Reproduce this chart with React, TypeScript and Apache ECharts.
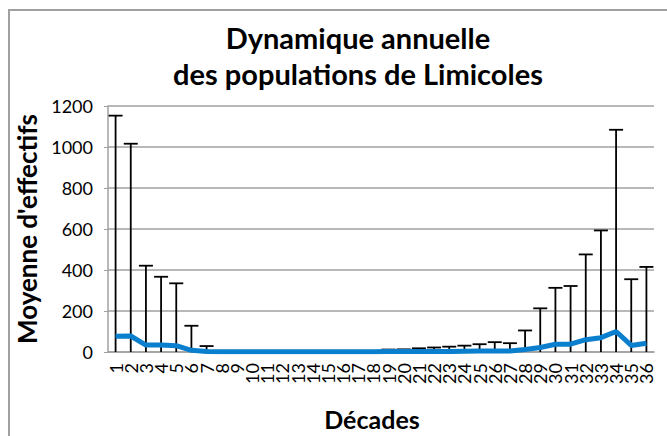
import React, { useEffect, useRef } from "react";
import * as echarts from "echarts";

const decades = Array.from({ length: 36 }, (_, i) => String(i + 1));
const means = [77, 78, 34, 34, 31, 8, 2, 1, 1, 1, 1, 1, 1, 1, 1, 1, 1, 1, 2, 2, 2, 3, 3, 4, 5, 5, 5, 12, 22, 38, 38, 60, 70, 100, 32, 43];
const upper = [1153, 1016, 421, 367, 335, 128, 29, 3, 2, 2, 2, 2, 2, 2, 2, 2, 2, 3, 12, 13, 18, 22, 26, 31, 38, 48, 43, 105, 213, 313, 322, 476, 593, 1084, 355, 415];
const yTicks = { min: 0, max: 1200, interval: 200 };
const titleLines = ["Dynamique annuelle", "des populations de Limicoles"];

const FONT = "Lato";

export default function App() {
  const ref = useRef<HTMLDivElement>(null);
  useEffect(() => {
    const chart = echarts.init(ref.current!, null, { renderer: "svg" });
    const errData = means.map((m, i) => [i, Math.max(0, m - (upper[i] - m)), upper[i]]);
    chart.setOption({
      animation: false,
      backgroundColor: "#fff",
      grid: { left: 108, right: 13, top: 106, bottom: 71, containLabel: false },
      xAxis: {
        type: "category",
        data: decades,
        boundaryGap: true,
        name: "Décades",
        nameLocation: "middle",
        nameGap: 54,
        nameTextStyle: { fontFamily: FONT, fontWeight: "bold", fontSize: 25, color: "#000", padding: [0, 18, 0, 0] },
        axisLine: { lineStyle: { color: "#a0a0a0", width: 1.5 } },
        axisTick: { show: false },
        axisLabel: { interval: 0, rotate: 90, fontFamily: FONT, fontSize: 18, color: "#000", margin: 11 },
      },
      yAxis: {
        type: "value",
        min: yTicks.min,
        max: yTicks.max,
        interval: yTicks.interval,
        name: "Moyenne d'effectifs",
        nameLocation: "middle",
        nameGap: 64,
        nameTextStyle: { fontFamily: FONT, fontWeight: "bold", fontSize: 26, color: "#000" },
        axisLine: { show: true, lineStyle: { color: "#a0a0a0", width: 1.5 } },
        axisTick: { show: true, length: 4, lineStyle: { color: "#a0a0a0" } },
        axisLabel: { fontFamily: FONT, fontSize: 18, color: "#000", margin: 15, formatter: (v: number) => String(v) },
        splitLine: { lineStyle: { color: "#a0a0a0", width: 1.5 } },
      },
      graphic: [
        {
          type: "rect",
          shape: { x: 9, y: 10, width: 700, height: 500 },
          style: { fill: "none", stroke: "#a0a0a0", lineWidth: 2 },
          silent: true,
          z: 100,
        },
        ...titleLines.map((t, i) => ({
          type: "text",
          x: 358,
          y: 37 + i * 36,
          style: {
            text: t,
            fontFamily: FONT,
            fontWeight: "bold",
            fontSize: 29,
            fill: "#000",
            textAlign: "center",
            textVerticalAlign: "middle",
          },
        })),
      ],
      series: [
        {
          type: "custom",
          data: errData,
          z: 2,
          renderItem: (params: any, api: any) => {
            const x = api.value(0);
            const lo = api.coord([x, api.value(1)]);
            const hi = api.coord([x, api.value(2)]);
            const hw = 7;
            return {
              type: "group",
              children: [
                { type: "line", shape: { x1: hi[0], y1: lo[1], x2: hi[0], y2: hi[1] }, style: { stroke: "#000", lineWidth: 1.8 } },
                { type: "line", shape: { x1: hi[0] - hw, y1: hi[1], x2: hi[0] + hw, y2: hi[1] }, style: { stroke: "#000", lineWidth: 1.8 } },
              ],
            };
          },
        },
        {
          type: "line",
          data: means,
          symbol: "none",
          z: 3,
          lineStyle: { color: "#0a7fcd", width: 5 },
        },
      ],
    });
    return () => chart.dispose();
  }, []);
  return <div ref={ref} style={{ position: "fixed", left: 0, top: 0, width: 667, height: 436 }} />;
}
